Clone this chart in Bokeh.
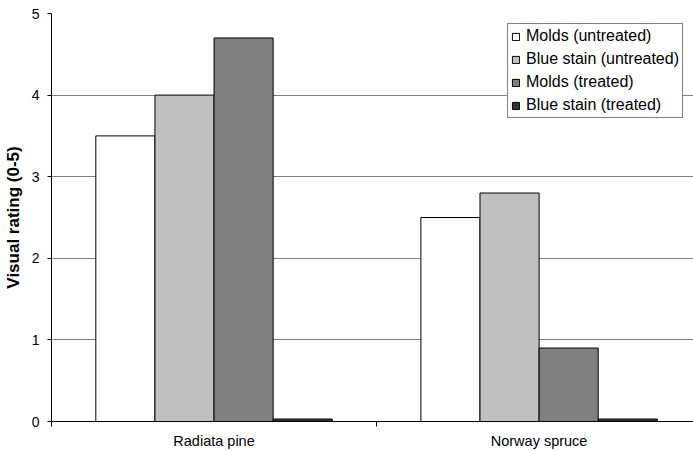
from bokeh.plotting import figure
from bokeh.models import Range1d, FixedTicker, Legend, LegendItem, ColumnDataSource
from bokeh.transform import dodge
from bokeh.embed import file_html
from bokeh.resources import INLINE

categories = ["Radiata pine", "Norway spruce"]
series_names = ["Molds (untreated)", "Blue stain (untreated)", "Molds (treated)", "Blue stain (treated)"]
molds_untreated = [3.5, 2.5]
blue_stain_untreated = [4.0, 2.8]
molds_treated = [4.7, 0.9]
blue_stain_treated = [0.03, 0.03]
series_colors = ["#FFFFFF", "#C0C0C0", "#808080", "#333333"]
y_ticks = [0, 1, 2, 3, 4, 5]

FONT = "Liberation Sans"

cat_x = [i + 0.5 for i in range(len(categories))]
source = ColumnDataSource(dict(
    x=cat_x,
    mu=molds_untreated,
    bu=blue_stain_untreated,
    mt=molds_treated,
    bt=blue_stain_treated,
))
keys = ["mu", "bu", "mt", "bt"]

p = figure(width=693, height=451, output_backend="svg", toolbar_location=None,
           x_range=Range1d(0, 1.975), y_range=Range1d(0, 5),
           min_border_left=50, min_border_right=0, min_border_top=13, min_border_bottom=30)
p.outline_line_color = None
p.background_fill_color = "white"
p.border_fill_color = "white"

n = len(keys)
bar_w = 1.0 / (n + 1.5)
items = []
for i, (key, name, col) in enumerate(zip(keys, series_names, series_colors)):
    off = (i - (n - 1) / 2) * bar_w
    r = p.vbar(x=dodge("x", off), top=key, width=bar_w, source=source,
               fill_color=col, line_color="black", line_width=1)
    items.append(LegendItem(label=name, renderers=[r]))

# axes
p.xgrid.visible = False
p.ygrid.ticker = FixedTicker(ticks=y_ticks)
p.ygrid.grid_line_color = "#808080"
p.ygrid.grid_line_width = 1

p.yaxis.ticker = FixedTicker(ticks=y_ticks)
p.yaxis.axis_line_color = "black"
p.yaxis.major_tick_line_color = "black"
p.yaxis.major_tick_out = 4
p.yaxis.major_tick_in = 0
p.yaxis.minor_tick_line_color = None
p.yaxis.major_label_standoff = 8
p.yaxis.major_label_text_font = FONT
p.yaxis.major_label_text_font_size = "14px"
p.yaxis.major_label_text_color = "black"
p.yaxis.axis_label = "Visual rating (0-5)"
p.yaxis.axis_label_text_font = FONT
p.yaxis.axis_label_text_font_size = "17px"
p.yaxis.axis_label_text_font_style = "bold"
p.yaxis.axis_label_text_color = "black"
p.yaxis.axis_label_standoff = 6

p.xaxis.ticker = FixedTicker(ticks=cat_x, minor_ticks=list(range(len(categories) + 1)))
p.xaxis.major_label_overrides = {x: c for x, c in zip(cat_x, categories)}
p.xaxis.axis_line_color = "black"
p.xaxis.major_tick_line_color = None
p.xaxis.major_tick_out = 0
p.xaxis.major_tick_in = 0
p.xaxis.minor_tick_line_color = "black"
p.xaxis.minor_tick_out = 5
p.xaxis.minor_tick_in = 0
p.xaxis.major_label_standoff = 6
p.xaxis.major_label_text_font = FONT
p.xaxis.major_label_text_font_size = "14.5px"
p.xaxis.major_label_text_color = "black"

legend = Legend(items=items, location="top_right")
legend.margin = 10
legend.padding = 3
legend.spacing = 5
legend.glyph_width = 9
legend.glyph_height = 9
legend.label_height = 18
legend.label_standoff = 6
legend.label_text_font = FONT
legend.label_text_font_size = "16px"
legend.label_text_color = "black"
legend.border_line_color = "black"
legend.border_line_width = 1
legend.background_fill_color = "white"
legend.background_fill_alpha = 1
p.add_layout(legend)

open("out.html", "w").write(file_html(p, INLINE))
